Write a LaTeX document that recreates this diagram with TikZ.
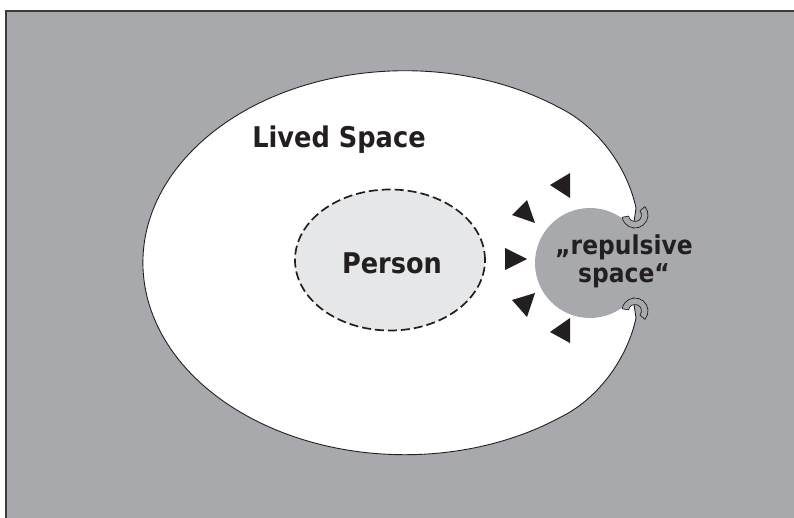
\documentclass[tikz,border=0pt]{standalone}
\usepackage{fontspec}
\newfontfamily\lbl{DejaVu Sans Bold}[FakeStretch=0.9]
\usetikzlibrary{shapes.geometric}
\definecolor{bggray}{HTML}{A8A9AD}
\definecolor{ink}{HTML}{231F20}
\definecolor{frame}{HTML}{3A3A3C}
\definecolor{personfill}{HTML}{E6E7E8}
\tikzset{
  outline/.style={draw=ink, line width=0.9pt},
  hookshape/.style={fill=bggray, draw=ink, line width=0.7pt},
  arrowtri/.style={fill=ink},
  bigtext/.style={text=ink, inner sep=0pt, font=\lbl\fontsize{28.5}{31}\selectfont},
  reptext/.style={text=ink, inner sep=0pt, font=\lbl\fontsize{26}{29}\selectfont},
}
\begin{document}
\begin{tikzpicture}[x=1pt,y=-1pt]
\useasboundingbox (0,0) rectangle (794,518);
\fill[white] (0,0) rectangle (794,518);
% background
\path[fill=bggray, draw=frame, line width=1.3pt] (6,11) rectangle (800,525);
% lived space region
\path[fill=white, outline] (636,208) .. controls (628,170) and (600,128) .. (560,108)
  arc[start angle=-53.7, end angle=-306.3, x radius=262, y radius=192]
  .. controls (600,398) and (628,356) .. (636,318) -- (628,263) -- cycle;
% repulsive circle
\node[circle, fill=bggray, minimum size=110pt, inner sep=0pt] (repulsive) at (590,263) {};
% hooks
\coordinate (hooktop) at (635,215);
\coordinate (hookbot) at (635,311);
\path[hookshape] (hooktop) ++(-40:13) arc[start angle=-40, end angle=170, radius=13]
  -- ++(170:-6.5) arc[start angle=170, end angle=-40, radius=6.5] -- cycle;
\path[hookshape] (hookbot) ++(40:13) arc[start angle=40, end angle=-170, radius=13]
  -- ++(-170:-6.5) arc[start angle=-170, end angle=40, radius=6.5] -- cycle;
% person
\node[ellipse, fill=personfill, draw=ink, line width=1.7pt, dash pattern=on 9pt off 4pt,
  minimum width=190pt, minimum height=141pt, inner sep=0pt] (person) at (390,260) {};
% triangles
\path[arrowtri] (550,185) -- (570,173) -- (570,198) -- cycle;
\path[arrowtri] (512,215) -- (527,200) -- (535,223) -- cycle;
\path[arrowtri] (505,248) -- (505,270) -- (527,259) -- cycle;
\path[arrowtri] (512,300) -- (535,293) -- (527,317) -- cycle;
\path[arrowtri] (550,332) -- (570,318) -- (570,343) -- cycle;
% texts
\node[bigtext, anchor=base] (livedlabel) at (339,148) {Lived Space};
\node[bigtext, anchor=base] (personlabel) at (392,273) {Person};
\node[reptext, anchor=base] (replabel1) at (624,255) {„repulsive};
\node[reptext, anchor=base] (replabel2) at (624,283) {space“};
\end{tikzpicture}
\end{document}
